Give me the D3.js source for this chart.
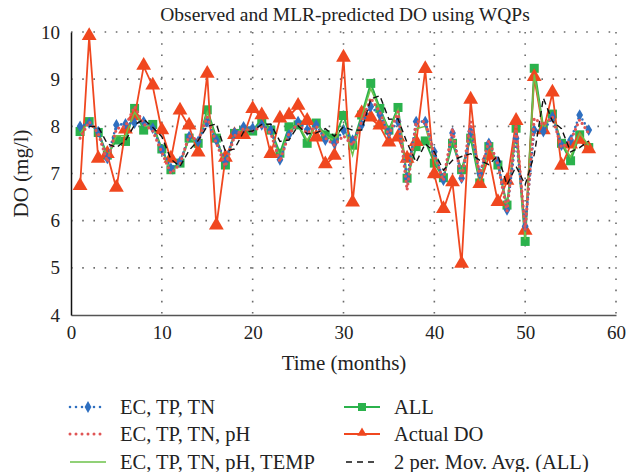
<!DOCTYPE html>
<html>
<head>
<meta charset="utf-8">
<script src="https://cdn.jsdelivr.net/npm/d3@7"></script>
<style>
  body { margin: 0; background: #fff; }
  text { font-family: "Liberation Serif", "DejaVu Serif", serif; }
</style>
</head>
<body>
<div id="chart-area"></div>
<script>
// months 1..57
var months = d3.range(1, 58);
var xTicks = [0, 10, 20, 30, 40, 50, 60];
var yTicks = [4, 5, 6, 7, 8, 9, 10];

var ecTpTn = [8.0, 8.07, 7.89, 7.32, 8.03, 8.05, 8.07, 8.1, 7.96, 7.5, 7.11, 7.25, 7.78, 7.68, 8.1, 7.71, 7.25, 7.86, 7.99, 7.96,
  8.03, 7.92, 7.29, 7.82, 8.1, 7.92, 8.03, 7.71, 7.64, 7.92, 7.71, 8.03, 8.42, 8.24, 7.86, 8.1, 6.9, 8.1, 8.1, 7.46,
  6.86, 7.86, 6.9, 7.89, 7.0, 7.64, 7.25, 6.23, 7.75, 5.88, 7.92, 7.89, 8.2, 7.6, 7.71, 8.24, 7.92];
var ecTpTnPh = [7.75, 8.1, 7.85, 7.25, 7.95, 8.0, 8.42, 8.05, 7.9, 7.45, 7.0, 7.2, 7.8, 7.7, 8.2, 7.65, 7.15, 7.8, 7.95, 7.9,
  8.0, 7.85, 7.25, 7.85, 8.05, 7.85, 8.0, 7.75, 7.6, 7.8, 7.6, 8.1, 8.6, 8.3, 7.8, 8.31, 6.65, 8.1, 8.1, 7.4,
  6.85, 7.96, 6.85, 8.1, 6.95, 7.7, 7.2, 6.2, 8.0, 5.8, 8.17, 8.03, 8.2, 7.55, 7.7, 8.14, 7.85];
var ecTpTnPhTemp = [7.85, 8.1, 7.85, 7.35, 7.8, 7.8, 8.3, 8.0, 8.0, 7.5, 7.05, 7.2, 7.75, 7.65, 8.3, 7.7, 7.2, 7.85, 7.95, 7.9,
  8.1, 7.9, 7.35, 7.9, 8.05, 7.7, 8.05, 7.8, 7.7, 8.03, 7.39, 8.2, 8.8, 8.35, 7.9, 8.35, 6.85, 7.95, 8.0, 7.3,
  6.9, 7.75, 7.0, 7.85, 6.85, 7.6, 7.2, 6.3, 7.9, 5.6, 9.1, 7.95, 8.25, 7.65, 7.35, 7.85, 7.6];
var allWqp = [7.89, 8.1, 7.87, 7.39, 7.71, 7.68, 8.38, 7.92, 8.04, 7.52, 7.08, 7.22, 7.75, 7.64, 8.35, 7.75, 7.18, 7.85, 7.9, 7.9,
  8.17, 7.92, 7.43, 7.99, 8.03, 7.64, 8.07, 7.82, 7.75, 8.23, 7.6, 8.24, 8.91, 8.38, 7.92, 8.4, 6.9, 7.57, 7.69, 7.22,
  6.91, 7.64, 7.08, 7.75, 6.8, 7.57, 7.18, 6.33, 7.96, 5.56, 9.23, 7.96, 8.26, 7.64, 7.27, 7.82, 7.55];
var actualDo = [6.72, 9.9, 7.3, 7.4, 6.68, 7.92, 8.2, 9.27, 8.85, 7.9, 7.3, 8.32, 8.0, 7.43, 9.1, 5.88, 7.32, 7.8, 7.8, 8.35,
  8.22, 7.4, 8.15, 8.22, 8.42, 8.1, 7.75, 7.18, 7.36, 9.44, 6.37, 8.26, 8.17, 8.0, 7.64, 7.75, 7.3, 7.65, 9.2, 6.97,
  6.23, 6.8, 5.07, 8.55, 6.76, 7.36, 6.38, 6.83, 8.1, 5.77, 9.03, 7.9, 8.7, 7.15, 7.6, 7.7, 7.5];
// 2 per. moving average of ALL, starting at month 2
var movAvg = [null, 8.0, 7.99, 7.63, 7.55, 7.7, 8.03, 8.15, 7.98, 7.78, 7.3, 7.15, 7.49, 7.7, 8.0, 8.05, 7.47, 7.52, 7.88, 7.9,
  8.04, 8.05, 7.68, 7.71, 8.01, 7.84, 7.86, 7.95, 7.79, 7.99, 7.92, 7.92, 8.58, 8.65, 8.15, 8.16, 7.65, 7.24, 7.63, 7.46,
  7.07, 7.28, 7.36, 7.42, 7.28, 7.19, 7.38, 6.76, 7.15, 6.76, 7.4, 8.6, 8.11, 7.95, 7.46, 7.55, 7.69];

var margin = {left: 71, right: 11, top: 32, bottom: 157};
var width = 627 - margin.left - margin.right;
var height = 472 - margin.top - margin.bottom;

var svg = d3.select("#chart-area").append("svg")
    .attr("width", 627)
    .attr("height", 472);

var g = svg.append("g")
    .attr("transform", "translate(" + margin.left + "," + margin.top + ")");

var x = d3.scaleLinear().domain([0, 60]).range([0, width]);
var y = d3.scaleLinear().domain([4, 10]).range([height, 0]);

// dotted grid
g.selectAll(".hgrid")
    .data(yTicks.slice(1))
    .enter().append("line")
    .attr("x1", 0).attr("x2", width)
    .attr("y1", d => y(d)).attr("y2", d => y(d))
    .attr("stroke", "#6b6b6b")
    .attr("stroke-width", 1.6)
    .attr("stroke-dasharray", "1.6,9.6");

g.selectAll(".vgrid")
    .data(xTicks.slice(1))
    .enter().append("line")
    .attr("x1", d => x(d)).attr("x2", d => x(d))
    .attr("y1", 0).attr("y2", height)
    .attr("stroke", "#6b6b6b")
    .attr("stroke-width", 1.6)
    .attr("stroke-dasharray", "1.6,9.6");

// axes
var bottomAxis = d3.axisBottom(x).tickValues(xTicks).tickSize(0).tickPadding(11).tickFormat(d3.format("d"));
var xg = g.append("g")
    .attr("transform", "translate(0," + height + ")")
    .call(bottomAxis);
xg.select(".domain").attr("stroke", "#555").attr("stroke-width", 1.5);
xg.selectAll("text").attr("font-size", "19px").attr("fill", "#222");

var leftAxis = d3.axisLeft(y).tickValues(yTicks).tickSize(0).tickPadding(11).tickFormat(d3.format("d"));
var yg = g.append("g").call(leftAxis);
yg.select(".domain").attr("stroke", "#111").attr("stroke-width", 1.5);
yg.selectAll("text").attr("font-size", "19px").attr("fill", "#222");

// series
var line = function(vals) {
    return d3.line()
        .defined(d => d != null)
        .x((d, i) => x(months[i]))
        .y(d => y(d))(vals);
};

var cBlue = "#2e6fc0", cPink = "#e05555", cLime = "#6cc24a", cGreen = "#2bb24c", cRed = "#f0471f";
var tri = d3.symbol().type(d3.symbolTriangle).size(95);
var dia = d3.symbol().type(d3.symbolDiamond).size(40);

// ALL
g.append("path").attr("d", line(allWqp))
    .attr("fill", "none").attr("stroke", cGreen).attr("stroke-width", 2);
g.selectAll(".sq").data(allWqp).enter().append("rect")
    .attr("x", (d, i) => x(months[i]) - 4.5)
    .attr("y", d => y(d) - 4.5)
    .attr("width", 9).attr("height", 9)
    .attr("fill", cGreen);

// Actual DO
g.append("path").attr("d", line(actualDo))
    .attr("fill", "none").attr("stroke", cRed).attr("stroke-width", 1.8);
g.selectAll(".tri").data(actualDo).enter().append("path")
    .attr("d", tri)
    .attr("transform", (d, i) => "translate(" + x(months[i]) + "," + (y(d) - 1) + ")")
    .attr("fill", cRed);

// EC, TP, TN, pH, TEMP
g.append("path").attr("d", line(ecTpTnPhTemp))
    .attr("fill", "none").attr("stroke", cLime).attr("stroke-width", 1.5);

// EC, TP, TN
g.append("path").attr("d", line(ecTpTn))
    .attr("fill", "none").attr("stroke", cBlue).attr("stroke-width", 2.6)
    .attr("stroke-linecap", "round").attr("stroke-dasharray", "0,4.5");
g.selectAll(".dia").data(ecTpTn).enter().append("path")
    .attr("d", dia)
    .attr("transform", (d, i) => "translate(" + x(months[i]) + "," + y(d) + ")")
    .attr("fill", cBlue);

// EC, TP, TN, pH
g.append("path").attr("d", line(ecTpTnPh))
    .attr("fill", "none").attr("stroke", cPink).attr("stroke-width", 3.2)
    .attr("stroke-linecap", "round").attr("stroke-dasharray", "0,5");

// moving average
g.append("path").attr("d", line(movAvg))
    .attr("fill", "none").attr("stroke", "#111").attr("stroke-width", 1.4)
    .attr("stroke-dasharray", "6,4");

// titles
svg.append("text")
    .attr("x", 345).attr("y", 21)
    .attr("text-anchor", "middle")
    .attr("font-size", "19.5px").attr("fill", "#222")
    .text("Observed and MLR-predicted DO using WQPs");

svg.append("text")
    .attr("x", 344).attr("y", 370)
    .attr("text-anchor", "middle")
    .attr("font-size", "21px").attr("fill", "#222")
    .text("Time (months)");

svg.append("text")
    .attr("transform", "translate(28," + (margin.top + height / 2) + ") rotate(-90)")
    .attr("text-anchor", "middle")
    .attr("font-size", "21px").attr("fill", "#222")
    .text("DO (mg/l)");

// legend
var legendItems = [
    {name: "EC, TP, TN", col: 0, row: 0, kind: "blue"},
    {name: "EC, TP, TN, pH", col: 0, row: 1, kind: "pink"},
    {name: "EC, TP, TN, pH, TEMP", col: 0, row: 2, kind: "lime"},
    {name: "ALL", col: 1, row: 0, kind: "all"},
    {name: "Actual DO", col: 1, row: 1, kind: "actual"},
    {name: "2 per. Mov. Avg. (ALL)", col: 1, row: 2, kind: "avg"}
];
var colX = [70, 344], rowY = [407, 434, 462];

legendItems.forEach(function(it) {
    var lx = colX[it.col], ly = rowY[it.row];
    var lg = svg.append("g").attr("transform", "translate(" + lx + "," + ly + ")");
    var l = lg.append("line").attr("x1", 0).attr("x2", 36).attr("y1", 0).attr("y2", 0);
    if (it.kind == "blue") {
        l.attr("stroke", cBlue).attr("stroke-width", 2.6).attr("stroke-linecap", "round").attr("stroke-dasharray", "0,6");
        lg.append("path").attr("d", dia).attr("transform", "translate(18,0)").attr("fill", cBlue);
    } else if (it.kind == "pink") {
        l.attr("stroke", cPink).attr("stroke-width", 3).attr("stroke-linecap", "round").attr("stroke-dasharray", "0,6");
    } else if (it.kind == "lime") {
        l.attr("stroke", cLime).attr("stroke-width", 1.5);
    } else if (it.kind == "all") {
        l.attr("stroke", cGreen).attr("stroke-width", 2);
        lg.append("rect").attr("x", 14).attr("y", -4).attr("width", 8).attr("height", 8).attr("fill", cGreen);
    } else if (it.kind == "actual") {
        l.attr("stroke", cRed).attr("stroke-width", 1.8);
        lg.append("path").attr("d", d3.symbol().type(d3.symbolTriangle).size(40))
            .attr("transform", "translate(18,-1)").attr("fill", cRed);
    } else {
        l.attr("x1", 2).attr("x2", 34).attr("stroke", "#111").attr("stroke-width", 1.4).attr("stroke-dasharray", "6,5");
    }
    lg.append("text")
        .attr("x", 50).attr("y", 7)
        .attr("font-size", "20.5px").attr("fill", "#222")
        .text(it.name);
});
</script>
</body>
</html>
